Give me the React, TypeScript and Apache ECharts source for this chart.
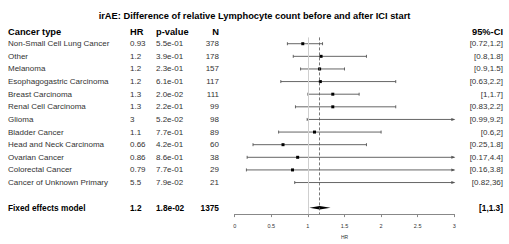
import React, { useEffect, useRef } from "react";
import * as echarts from "echarts";

const cancerTypes = [
  "Non-Small Cell Lung Cancer",
  "Other",
  "Melanoma",
  "Esophagogastric Carcinoma",
  "Breast Carcinoma",
  "Renal Cell Carcinoma",
  "Glioma",
  "Bladder Cancer",
  "Head and Neck Carcinoma",
  "Ovarian Cancer",
  "Colorectal Cancer",
  "Cancer of Unknown Primary",
];
const hrLabels = ["0.93", "1.2", "1.2", "1.2", "1.3", "1.3", "3", "1.1", "0.66", "0.86", "0.79", "5.5"];
const pLabels = ["5.5e-01", "3.9e-01", "2.3e-01", "6.1e-01", "2.0e-02", "2.2e-01", "5.2e-02", "7.7e-01", "4.2e-01", "8.6e-01", "7.7e-01", "7.9e-02"];
const nPatients = [378, 178, 157, 117, 111, 99, 98, 89, 60, 38, 29, 21];
const hrEstimates = [0.93, 1.18, 1.16, 1.17, 1.34, 1.34, 3.02, 1.09, 0.66, 0.86, 0.79, 5.5];
const ciLower = [0.72, 0.8, 0.9, 0.63, 1.0, 0.83, 0.99, 0.6, 0.25, 0.17, 0.16, 0.82];
const ciUpper = [1.2, 1.8, 1.5, 2.2, 1.7, 2.2, 9.2, 2.0, 1.8, 4.4, 3.8, 36];
const ciLabels = ["[0.72,1.2]", "[0.8,1.8]", "[0.9,1.5]", "[0.63,2.2]", "[1,1.7]", "[0.83,2.2]", "[0.99,9.2]", "[0.6,2]", "[0.25,1.8]", "[0.17,4.4]", "[0.16,3.8]", "[0.82,36]"];

const fixedName = "Fixed effects model";
const fixedHrLabel = "1.2";
const fixedPLabel = "1.8e-02";
const fixedN = 1375;
const fixedCiLabel = "[1,1.3]";
const fixedEstimate = 1.16;
const fixedLower = 1.02;
const fixedUpper = 1.31;

const xTicks = [0, 0.5, 1, 1.5, 2, 2.5, 3];

const GRID_LEFT = 234.7;
const GRID_RIGHT_X = 454.3;
const W = 509;
const H = 244;

export default function App() {
  const ref = useRef<HTMLDivElement>(null);
  useEffect(() => {
    document.body.style.margin = "0";
    if (!ref.current) return;
    const chart = echarts.init(ref.current, undefined, { renderer: "svg" });
    const rows = [...cancerTypes, "", fixedName];
    const nRows = rows.length;
    const last = nRows - 1;
    const font = "Liberation Sans, Arial, sans-serif";
    const bodySize = 8;
    const rich = {
      b: { fontWeight: "bold" as const, color: "#000", fontSize: 8.3, fontFamily: font },
    };
    const fmt = (v: string, i: number) => (i === last ? `{b|${v}}` : v);
    const labelBase = {
      interval: 0,
      fontSize: bodySize,
      color: "#333",
      fontFamily: font,
      rich,
    };
    const hiddenAxisParts = {
      axisLine: { show: false },
      axisTick: { show: false },
      splitLine: { show: false },
    };
    const hrCol = [...hrLabels, "", fixedHrLabel];
    const pCol = [...pLabels, "", fixedPLabel];
    const nCol = [...nPatients.map(String), "", String(fixedN)];
    const ciCol = [...ciLabels, "", fixedCiLabel];

    const gridTop = 37.4;
    const gridBottomY = 222;

    const yAxes = [
      { col: rows, align: "left", margin: GRID_LEFT - 8, position: "left" },
      { col: hrCol, align: "left", margin: GRID_LEFT - 130, position: "left" },
      { col: pCol, align: "left", margin: GRID_LEFT - 156, position: "left" },
      { col: nCol, align: "right", margin: GRID_LEFT - 219, position: "left" },
      { col: ciCol, align: "right", margin: 503 - GRID_RIGHT_X, position: "right" },
    ].map((a) => ({
      type: "category",
      inverse: true,
      position: a.position,
      data: a.col,
      ...hiddenAxisParts,
      axisLabel: { ...labelBase, align: a.align, margin: a.margin, formatter: fmt },
    }));

    const studyData = cancerTypes.map((_, i) => [hrEstimates[i], i, ciLower[i], ciUpper[i]]);
    const headFont = `bold 9.3px ${font}`;

    chart.setOption({
      animation: false,
      title: {
        text: "irAE: Difference of relative Lymphocyte count before and after ICI start",
        left: "center",
        top: 6,
        textStyle: { fontSize: 9.3, fontWeight: "bold", color: "#000", fontFamily: font },
      },
      grid: {
        left: GRID_LEFT,
        right: W - GRID_RIGHT_X,
        top: gridTop,
        bottom: H - gridBottomY,
        containLabel: false,
      },
      xAxis: {
        type: "value",
        min: 0,
        max: 3,
        interval: 0.5,
        name: "HR",
        nameLocation: "middle",
        nameGap: 19,
        nameTextStyle: { fontSize: 5, color: "#333", fontFamily: font },
        axisLine: { show: true, lineStyle: { color: "#888", width: 1 } },
        axisTick: { show: true, length: 3, lineStyle: { color: "#888" } },
        axisLabel: {
          fontSize: 5.5,
          color: "#333",
          margin: 9,
          fontFamily: font,
          formatter: (v: number) => (xTicks.includes(v) ? String(v) : ""),
        },
        splitLine: { show: false },
      },
      yAxis: yAxes,
      graphic: [
        { type: "text", left: 8, top: 27, style: { text: "Cancer type", font: headFont, fill: "#000" } },
        { type: "text", left: 130, top: 27, style: { text: "HR", font: headFont, fill: "#000" } },
        { type: "text", left: 156, top: 27, style: { text: "p-value", font: headFont, fill: "#000" } },
        { type: "text", right: W - 219, top: 27, style: { text: "N", font: headFont, fill: "#000" } },
        { type: "text", right: W - 503, top: 27, style: { text: "95%-CI", font: headFont, fill: "#000" } },
      ],
      series: [
        {
          type: "custom",
          name: "studies",
          xAxisIndex: 0,
          yAxisIndex: 0,
          clip: false,
          data: studyData,
          markLine: {
            silent: true,
            symbol: "none",
            label: { show: false },
            data: [
              { xAxis: 1, lineStyle: { color: "#cfcfcf", type: "solid", width: 1 } },
              { xAxis: fixedEstimate, lineStyle: { color: "#555", type: [3, 2], width: 0.8 } },
            ],
          },
          renderItem: (params: any, api: any) => {
            const est = api.value(0);
            const row = api.value(1);
            const lo = api.value(2);
            const hi = api.value(3);
            const y = api.coord([0, row])[1];
            const loC = Math.max(lo, 0);
            const hiC = Math.min(hi, 3);
            const xl = api.coord([loC, row])[0];
            const xr = api.coord([hiC, row])[0];
            const stroke = { stroke: "#555", lineWidth: 0.9 };
            const children: any[] = [
              { type: "line", shape: { x1: xl, y1: y, x2: xr, y2: y }, style: stroke },
              { type: "line", shape: { x1: xl, y1: y - 1.5, x2: xl, y2: y + 1.5 }, style: stroke },
            ];
            if (hi <= 3) {
              children.push({ type: "line", shape: { x1: xr, y1: y - 1.5, x2: xr, y2: y + 1.5 }, style: stroke });
            } else {
              children.push({
                type: "polygon",
                shape: { points: [[xr + 1, y], [xr - 3, y - 1.5], [xr - 3, y + 1.5]] },
                style: { fill: "#555" },
              });
            }
            if (est <= 3) {
              const xe = api.coord([est, row])[0];
              children.push({ type: "rect", shape: { x: xe - 1.5, y: y - 1.5, width: 3, height: 3 }, style: { fill: "#000" } });
            }
            return { type: "group", children };
          },
        },
        {
          type: "custom",
          name: "fixed",
          xAxisIndex: 0,
          yAxisIndex: 0,
          clip: false,
          data: [[fixedEstimate, last, fixedLower, fixedUpper]],
          renderItem: (params: any, api: any) => {
            const est = api.value(0);
            const row = api.value(1);
            const lo = api.value(2);
            const hi = api.value(3);
            const y = api.coord([0, row])[1];
            const xe = api.coord([est, row])[0];
            const xl = api.coord([lo, row])[0];
            const xr = api.coord([hi, row])[0];
            return {
              type: "polygon",
              shape: { points: [[xl, y], [xe, y - 1.7], [xr, y], [xe, y + 1.7]] },
              style: { fill: "#000" },
            };
          },
        },
      ],
    });
    return () => chart.dispose();
  }, []);
  return <div ref={ref} style={{ width: W, height: H }} />;
}
